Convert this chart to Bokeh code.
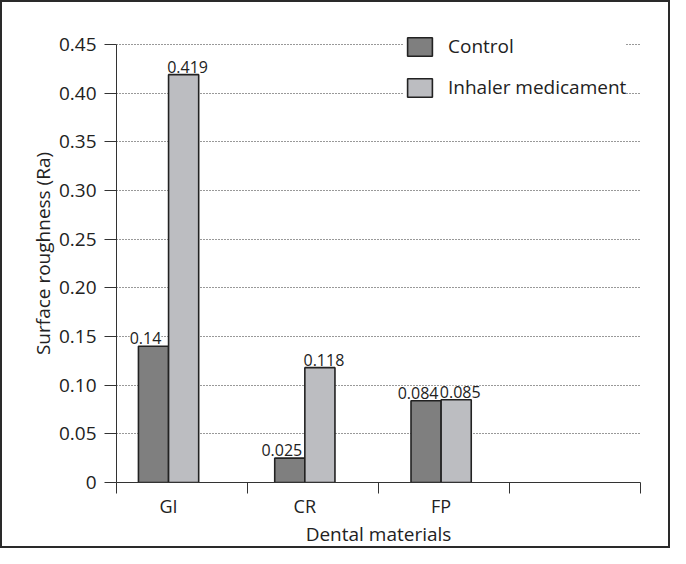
import numpy as np
from bokeh.plotting import figure
from bokeh.models import (Range1d, LinearAxis, FixedTicker, Legend, LegendItem,
                          LabelSet, ColumnDataSource, PrintfTickFormatter,
                          CustomJSTickFormatter)
from bokeh.core.properties import value
from bokeh.embed import file_html
from bokeh.resources import INLINE

# ---- data ----
categories = ["GI", "CR", "FP"]
control = [0.14, 0.025, 0.084]
inhaler = [0.419, 0.118, 0.085]
series_names = ["Control", "Inhaler medicament"]
y_ticks = [0, 0.05, 0.10, 0.15, 0.20, 0.25, 0.30, 0.35, 0.40, 0.45]

FONT = "Open Sans"
TXT = "#222222"
C_CTRL = "#7f7f7f"
C_INH = "#bcbdc1"
EDGE = "#222222"

x_start, x_end = -0.382, 3.463
bar_w = 0.221
idx = np.arange(len(categories))

p = figure(width=670, height=548,
           x_range=Range1d(x_start, x_end), y_range=Range1d(0, 0.4705),
           output_backend="svg", toolbar_location=None,
           x_axis_location=None, y_axis_location="left",
           min_border_left=114, min_border_right=32,
           min_border_top=22, min_border_bottom=68,
           styles={"border": "2px solid #2a2a2a"})
p.outline_line_color = None
p.background_fill_color = "white"
p.border_fill_color = "white"

# y axis
yax = p.yaxis[0]
yax.ticker = FixedTicker(ticks=y_ticks)
yax.formatter = PrintfTickFormatter(format="%.2f")
yax.major_label_overrides = {0: "0"}
yax.bounds = (0, 0.45)
yax.minor_tick_line_color = None
yax.major_tick_out = 12
yax.major_tick_in = 0
yax.major_label_standoff = 8
yax.axis_line_color = "#333333"
yax.major_tick_line_color = "#333333"
yax.major_label_text_font = FONT
yax.major_label_text_font_size = "19px"
yax.major_label_text_color = TXT
yax.axis_label = "Surface roughness (Ra)"
yax.axis_label_text_font = FONT
yax.axis_label_text_font_size = "19px"
yax.axis_label_text_font_style = "normal"
yax.axis_label_text_color = TXT
yax.axis_label_standoff = 0

# grid
p.xgrid.visible = False
p.ygrid.ticker = FixedTicker(ticks=y_ticks[1:])
p.ygrid.grid_line_color = "#333333"
p.ygrid.grid_line_dash = "1 2"
p.ygrid.grid_line_width = 1

# x axis with boundary ticks (slot separators)
bounds_ticks = list(np.linspace(x_start, x_end, len(categories) + 2))
xa = LinearAxis(ticker=FixedTicker(ticks=bounds_ticks), bounds=(x_start, x_end),
                formatter=CustomJSTickFormatter(code="return ''"),
                major_tick_out=11, major_tick_in=0, minor_tick_line_color=None,
                major_label_text_font_size="1px", major_label_standoff=0,
                axis_line_color="#333333", major_tick_line_color="#333333")
p.add_layout(xa, "below")

# x axis with category labels
xb = LinearAxis(ticker=FixedTicker(ticks=list(idx)),
                major_label_overrides={int(i): c for i, c in zip(idx, categories)},
                axis_line_color=None, major_tick_line_color=None,
                minor_tick_line_color=None, major_tick_out=0, major_tick_in=0,
                major_label_standoff=0,
                major_label_text_font=FONT, major_label_text_font_size="18px",
                major_label_text_color=TXT,
                axis_label="Dental materials", axis_label_text_font=FONT,
                axis_label_text_font_size="19px", axis_label_text_font_style="normal",
                axis_label_text_color=TXT, axis_label_standoff=0)
p.add_layout(xb, "below")

# bars
src = ColumnDataSource(dict(
    xc=idx - bar_w / 2, xi=idx + bar_w / 2,
    control=control, inhaler=inhaler,
    lc=[str(v) for v in control], li=[str(v) for v in inhaler],
))
r1 = p.vbar(x="xc", top="control", width=bar_w, source=src,
            fill_color=C_CTRL, line_color=EDGE, line_width=1.6)
r2 = p.vbar(x="xi", top="inhaler", width=bar_w, source=src,
            fill_color=C_INH, line_color=EDGE, line_width=1.6)

# value labels
for xcol, ycol, tcol, xo in [("xc", "control", "lc", -8), ("xi", "inhaler", "li", 4)]:
    p.add_layout(LabelSet(x=xcol, y=ycol, text=tcol, source=src,
                          x_offset=xo, y_offset=2,
                          text_align="center", text_baseline="bottom",
                          text_font=value(FONT), text_font_size="16px",
                          text_color=TXT, background_fill_color="white"))

# legend
legend = Legend(items=[LegendItem(label=series_names[0], renderers=[r1]),
                       LegendItem(label=series_names[1], renderers=[r2])],
                location=(288, 382), orientation="vertical",
                glyph_width=31, glyph_height=23, label_standoff=13, spacing=15,
                padding=5, margin=0,
                label_text_font=FONT, label_text_font_size="19px",
                label_text_color=TXT, border_line_color=None,
                background_fill_color="white", background_fill_alpha=1.0)
p.add_layout(legend, "center")

open("out.html", "w").write(file_html(p, INLINE))
